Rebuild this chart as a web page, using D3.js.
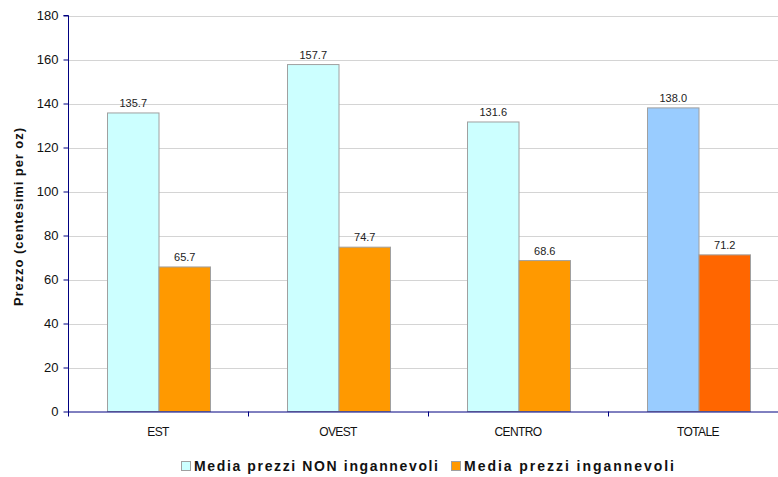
<!DOCTYPE html>
<html>
<head>
<meta charset="utf-8">
<script src="https://cdn.jsdelivr.net/npm/d3@7"></script>
<style>
  html, body { margin: 0; padding: 0; background: #fff; overflow: hidden; }
  svg { display: block; font-family: Arial, "Liberation Sans", sans-serif; }
</style>
</head>
<body>
<svg id="chart" width="778" height="477"></svg>
<script>
// Average price per region, in cents per ounce
const categories = ["EST", "OVEST", "CENTRO", "TOTALE"];
const seriesNames = ["Media prezzi NON ingannevoli", "Media prezzi ingannevoli"];
const nonIngannevoli = [135.7, 157.7, 131.6, 138.0];
const ingannevoli = [65.7, 74.7, 68.6, 71.2];
const yTicks = [0, 20, 40, 60, 80, 100, 120, 140, 160, 180];
const seriesColors = ["#CCFFFF", "#FF9900"];
const totalColors = ["#99CCFF", "#FF6600"];

const svg = d3.select("#chart");
const plot = { left: 68, right: 788, top: 15.5, bottom: 411.5 };

const x = d3.scaleBand().domain(categories).range([plot.left, plot.right]).paddingInner(0).paddingOuter(0);
const inner = d3.scaleBand().domain([0, 1]).range([39, x.bandwidth() - 38]);
const y = d3.scaleLinear().domain([0, 180]).range([plot.bottom, plot.top]);

// Gridlines
svg.append("g")
  .selectAll("line")
  .data(yTicks.filter(d => d > 0))
  .join("line")
  .attr("x1", plot.left).attr("x2", plot.right)
  .attr("y1", d => Math.round(y(d)) + 0.5).attr("y2", d => Math.round(y(d)) + 0.5)
  .attr("stroke", "#d4d4d4").attr("stroke-width", 1);

// Bars
const rows = categories.map((c, i) => ({ cat: c, values: [nonIngannevoli[i], ingannevoli[i]], total: c === "TOTALE" }));
const groups = svg.append("g").selectAll("g")
  .data(rows).join("g")
  .attr("transform", d => `translate(${x(d.cat)},0)`);

groups.selectAll("rect")
  .data(d => d.values.map((v, s) => ({ v, s, total: d.total })))
  .join("rect")
  .attr("x", d => inner(d.s) + 0.5)
  .attr("width", inner.bandwidth())
  .attr("y", d => y(d.v))
  .attr("height", d => plot.bottom - y(d.v))
  .attr("fill", d => (d.total ? totalColors : seriesColors)[d.s])
  .attr("stroke", "#a0a0a0").attr("stroke-width", 1);

groups.selectAll("text.value")
  .data(d => d.values.map((v, s) => ({ v, s })))
  .join("text")
  .attr("class", "value")
  .attr("x", d => inner(d.s) + inner.bandwidth() / 2 + 0.5)
  .attr("y", d => y(d.v) - 6)
  .attr("text-anchor", "middle")
  .attr("font-size", 11)
  .attr("fill", "#222")
  .text(d => d.v.toFixed(1));

// Y axis
const yAxis = d3.axisLeft(y).tickValues(yTicks).tickSize(5).tickPadding(5);
svg.append("g")
  .attr("transform", `translate(${plot.left + 0.5},0)`)
  .call(yAxis)
  .call(g => g.select(".domain").attr("stroke", "#000080").attr("d", `M-5,${plot.top}H0V${plot.bottom + 5}`))
  .call(g => g.selectAll(".tick line").attr("stroke", "#000080"))
  .call(g => g.selectAll(".tick text").attr("font-size", 13).attr("fill", "#111").attr("font-family", "Arial, 'Liberation Sans', sans-serif"));

// X axis
const xAxis = d3.axisBottom(x).tickSize(0).tickPadding(16);
const xg = svg.append("g")
  .attr("transform", `translate(0,${plot.bottom})`)
  .call(xAxis);
xg.select(".domain").attr("stroke", "#000080").attr("d", `M${plot.left},0.5H${plot.right}`);
xg.selectAll(".tick text").attr("font-size", 12).attr("fill", "#111").attr("letter-spacing", "-0.6px")
  .attr("font-family", "Arial, 'Liberation Sans', sans-serif");
xg.append("g").selectAll("line")
  .data(categories.slice(1))
  .join("line")
  .attr("x1", d => x(d) + 0.5).attr("x2", d => x(d) + 0.5)
  .attr("y1", 0).attr("y2", 5)
  .attr("stroke", "#000080");

// Y axis title
svg.append("text")
  .attr("transform", "translate(23,217) rotate(-90)")
  .attr("text-anchor", "middle")
  .attr("font-size", 13)
  .attr("font-weight", "bold")
  .attr("fill", "#111")
  .attr("textLength", 178)
  .attr("lengthAdjust", "spacing")
  .text("Prezzo (centesimi per oz)");

// Legend
const legend = svg.append("g").attr("transform", "translate(181,471)");
const legendX = [0, 270];
const legendTextWidth = [244, 210];
seriesNames.forEach((name, i) => {
  const g = legend.append("g").attr("transform", `translate(${legendX[i]},0)`);
  g.append("rect").attr("x", 0.5).attr("y", -9.5).attr("width", 9).attr("height", 9)
    .attr("fill", seriesColors[i]).attr("stroke", "#a0a0a0");
  g.append("text").attr("x", 13).attr("y", 0)
    .attr("font-size", 14).attr("font-weight", "bold")
    .attr("textLength", legendTextWidth[i]).attr("lengthAdjust", "spacing")
    .attr("fill", "#111").text(name);
});
</script>
</body>
</html>
